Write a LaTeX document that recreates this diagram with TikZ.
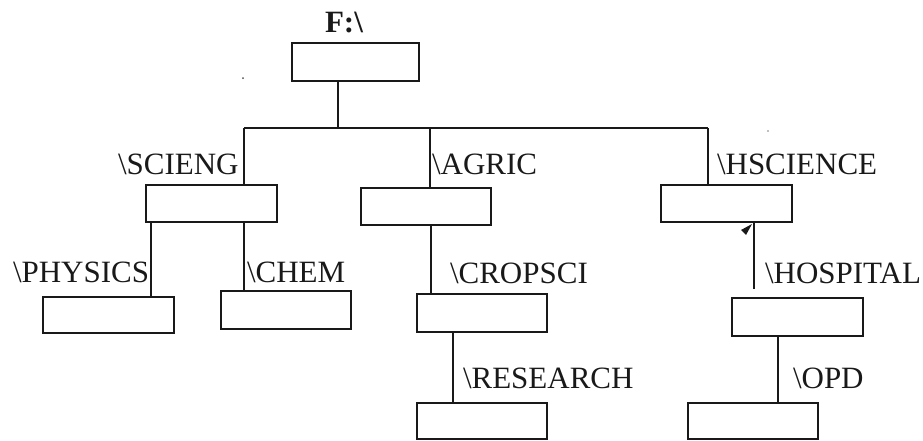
\documentclass[tikz,border=0pt]{standalone}
\usepackage{fontspec}
\setmainfont{Liberation Serif}
\begin{document}
\begin{tikzpicture}[x=1pt,y=-1pt,
  box/.style={draw=black!90, line width=1.8pt, rectangle, inner sep=0pt, outer sep=0pt},
  lbl/.style={anchor=base west, inner sep=0pt, outer sep=0pt, font=\fontsize{31}{31}\selectfont, text=black!90},
  link/.style={draw=black!90, line width=1.6pt}]
\useasboundingbox (0,0) rectangle (923,440);
% boxes
\node[box, minimum width=127pt, minimum height=38pt] (root) at (355.5,62) {};
\node[box, minimum width=131pt, minimum height=37pt] (sci) at (211.5,203.5) {};
\node[box, minimum width=130pt, minimum height=37pt] (agr) at (426,206.5) {};
\node[box, minimum width=131pt, minimum height=37pt] (hsc) at (726.5,203.5) {};
\node[box, minimum width=131pt, minimum height=36pt] (phy) at (108.5,315) {};
\node[box, minimum width=130pt, minimum height=38pt] (che) at (286,310) {};
\node[box, minimum width=130pt, minimum height=38pt] (cro) at (482,313) {};
\node[box, minimum width=131pt, minimum height=38pt] (hos) at (797.5,317) {};
\node[box, minimum width=130pt, minimum height=36pt] (res) at (482,421) {};
\node[box, minimum width=130pt, minimum height=36pt] (opd) at (753,421) {};
% labels
\node[lbl, font=\fontsize{31}{31}\selectfont\bfseries] (lroot) at (325,32) {F:\textbackslash};
\node[lbl] (lsci) at (118,174) {\textbackslash SCIENG};
\node[lbl] (lagr) at (432,174) {\textbackslash AGRIC};
\node[lbl] (lhsc) at (717,174) {\textbackslash HSCIENCE};
\node[lbl] (lphy) at (13,282) {\textbackslash PHYSICS};
\node[lbl] (lche) at (247,282) {\textbackslash CHEM};
\node[lbl] (lcro) at (450,283) {\textbackslash CROPSCI};
\node[lbl] (lhos) at (765,283) {\textbackslash HOSPITAL};
\node[lbl] (lres) at (463,388) {\textbackslash RESEARCH};
\node[lbl] (lopd) at (793,388) {\textbackslash OPD};
% bus
\coordinate (busL) at (244,128);
\coordinate (busR) at (708,128);
\coordinate (busM) at (338,128);
\coordinate (busA) at (430,128);
\draw[link] (root.south -| busM) -- (busM);
\draw[link] (busL) -- (busR);
\draw[link] (busL) -- (sci.north -| busL);
\draw[link] (busA) -- (agr.north -| busA);
\draw[link] (busR) -- (hsc.north -| busR);
% second level
\draw[link] (sci.south -| 151,0) -- (phy.north -| 151,0);
\draw[link] (sci.south -| 244,0) -- (che.north -| 244,0);
\draw[link] (agr.south -| 431,0) -- (cro.north -| 431,0);
\coordinate (hosEnd) at (754,289);
\draw[link] (hsc.south -| hosEnd) -- (hosEnd);
\draw[link] (cro.south -| 453,0) -- (res.north -| 453,0);
\draw[link] (hos.south -| 778,0) -- (opd.north -| 778,0);
% stray marks
\fill[black!90] (752,224) -- (741,230) -- (746,235) -- cycle;
\fill[black!70] (243,78) circle (1pt);
\fill[black!50] (768,131) circle (0.8pt);
\end{tikzpicture}
\end{document}
